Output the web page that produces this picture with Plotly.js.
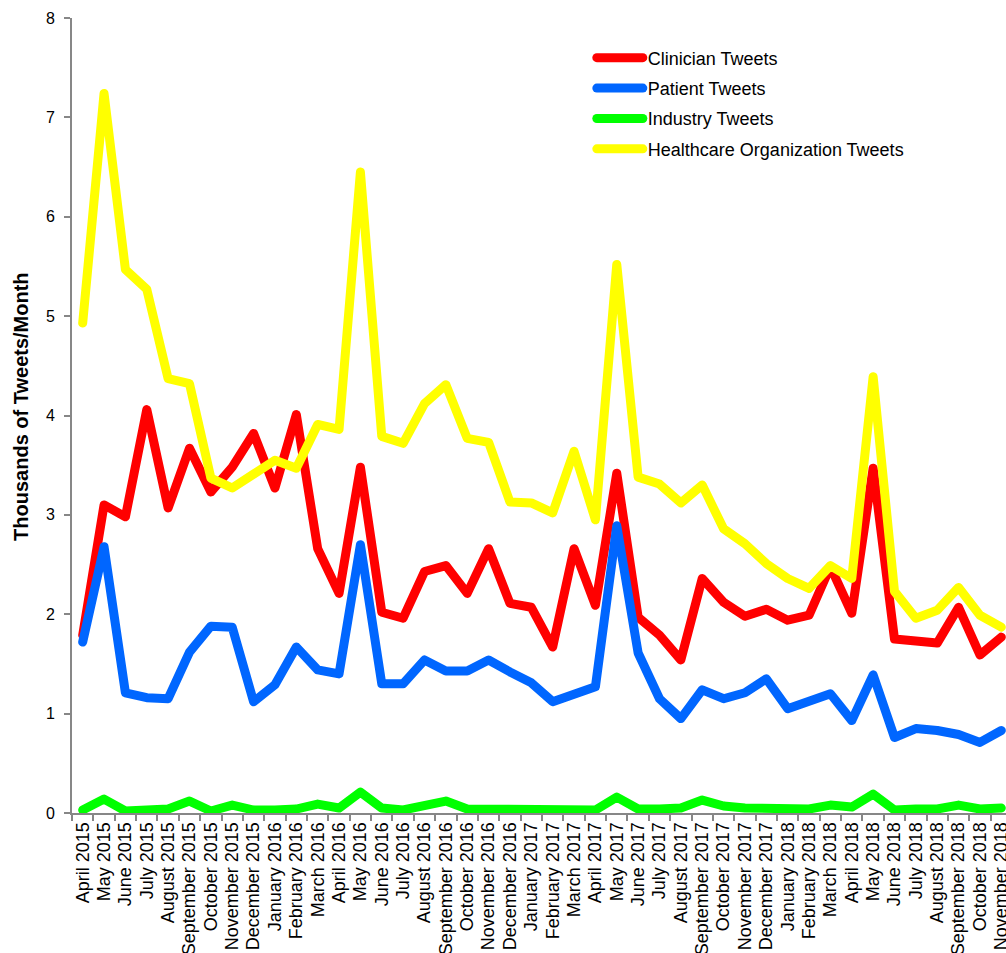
<!DOCTYPE html>
<html>
<head>
<meta charset="utf-8">
<script src="https://cdn.plot.ly/plotly-3.0.1.min.js"></script>
<style>
html, body { margin: 0; padding: 0; overflow: hidden; background: #fff; }
#chart { width: 1020px; height: 953px; }
.scatterlayer .js-line, .legendlines path { stroke-linejoin: round !important; stroke-linecap: round !important; }
</style>
</head>
<body>
<div id="chart"></div>
<script>
const months = ["April 2015","May 2015","June 2015","July 2015","August 2015","September 2015","October 2015","November 2015","December 2015",
"January 2016","February 2016","March 2016","April 2016","May 2016","June 2016","July 2016","August 2016","September 2016","October 2016","November 2016","December 2016",
"January 2017","February 2017","March 2017","April 2017","May 2017","June 2017","July 2017","August 2017","September 2017","October 2017","November 2017","December 2017",
"January 2018","February 2018","March 2018","April 2018","May 2018","June 2018","July 2018","August 2018","September 2018","October 2018","November 2018"];

const clinician = [1.79,3.10,2.98,4.06,3.07,3.67,3.23,3.48,3.82,3.27,4.01,2.66,2.21,3.48,2.02,1.96,2.43,2.49,2.21,2.66,2.11,2.07,1.67,2.66,2.09,3.42,1.97,1.79,1.54,2.36,2.12,1.98,2.05,1.94,1.99,2.48,2.01,3.47,1.75,1.72,1.71,2.07,1.59,1.77];
const patient = [1.72,2.68,1.21,1.16,1.15,1.62,1.88,1.87,1.12,1.29,1.67,1.44,1.40,2.70,1.30,1.30,1.54,1.43,1.43,1.54,1.42,1.31,1.12,1.20,1.27,2.89,1.61,1.15,0.95,1.24,1.15,1.21,1.35,1.05,1.13,1.20,0.93,1.39,0.76,0.85,0.83,0.79,0.71,0.83];
const industry = [0.03,0.14,0.02,0.03,0.04,0.12,0.02,0.08,0.03,0.03,0.04,0.09,0.05,0.21,0.05,0.03,0.07,0.12,0.04,0.04,0.04,0.04,0.03,0.04,0.03,0.16,0.04,0.04,0.05,0.13,0.07,0.05,0.05,0.05,0.04,0.08,0.06,0.19,0.03,0.04,0.04,0.08,0.04,0.05];
const healthcare = [4.93,7.24,5.47,5.27,4.37,4.32,3.37,3.27,3.41,3.55,3.47,3.91,3.86,6.45,3.79,3.72,4.12,4.31,3.77,3.73,3.13,3.12,3.02,3.64,2.95,5.52,3.38,3.31,3.12,3.30,2.86,2.71,2.51,2.36,2.26,2.49,2.36,4.39,2.23,1.96,2.04,2.27,1.99,1.87];

const seriesNames = ["Clinician Tweets","Patient Tweets","Industry Tweets","Healthcare Organization Tweets"];
const seriesData = [clinician, patient, industry, healthcare];
const seriesColors = ["#FF0000","#0066FF","#00FF00","#FFFF00"];
const yTicks = [0,1,2,3,4,5,6,7,8];
const yTitle = "Thousands of Tweets/Month";

const traces = seriesData.map((d, k) => ({
  type: "scatter",
  mode: "lines",
  x: months,
  y: d,
  name: seriesNames[k],
  legendgroup: "g" + k,
  line: { color: seriesColors[k], width: 9 },
  hoverinfo: "x+y+name"
}));

const layout = {
  width: 1020,
  height: 953,
  margin: { l: 72, r: 8, t: 18, b: 140 },
  paper_bgcolor: "#ffffff",
  plot_bgcolor: "#ffffff",
  font: { family: "Liberation Sans, Arial, sans-serif", color: "#000000", size: 16 },
  showlegend: true,
  legend: {
    x: 0.553, y: 0.973, xanchor: "left", yanchor: "top",
    bgcolor: "rgba(0,0,0,0)", borderwidth: 0,
    font: { size: 18, color: "#000" },
    tracegroupgap: 4,
    itemwidth: 46
  },
  xaxis: {
    type: "category",
    range: [-0.5, 43.5],
    tickmode: "array",
    tickvals: months,
    ticktext: months,
    showline: true, linecolor: "#878787", linewidth: 2,
    ticks: "outside", ticklen: 6, tickwidth: 2, tickcolor: "#878787",
    tickson: "boundaries",
    tickangle: -90,
    tickfont: { size: 18, color: "#000" },
    showgrid: false, zeroline: false,
    automargin: false
  },
  yaxis: {
    range: [0, 8],
    tickvals: yTicks,
    ticktext: yTicks.map(String),
    showline: true, linecolor: "#878787", linewidth: 2,
    ticks: "outside", ticklen: 6, tickwidth: 2, tickcolor: "#878787",
    ticklabelstandoff: 6,
    tickfont: { size: 16, color: "#000" },
    showgrid: false, zeroline: false,
    automargin: false
  },
  annotations: [{
    text: "<b>" + yTitle + "</b>",
    xref: "paper", yref: "paper",
    x: -0.0543, y: 0.512,
    xanchor: "center", yanchor: "middle",
    textangle: -90,
    showarrow: false,
    font: { size: 20, color: "#000" }
  }]
};

Plotly.newPlot("chart", traces, layout, { displayModeBar: false, staticPlot: true });
</script>
</body>
</html>
